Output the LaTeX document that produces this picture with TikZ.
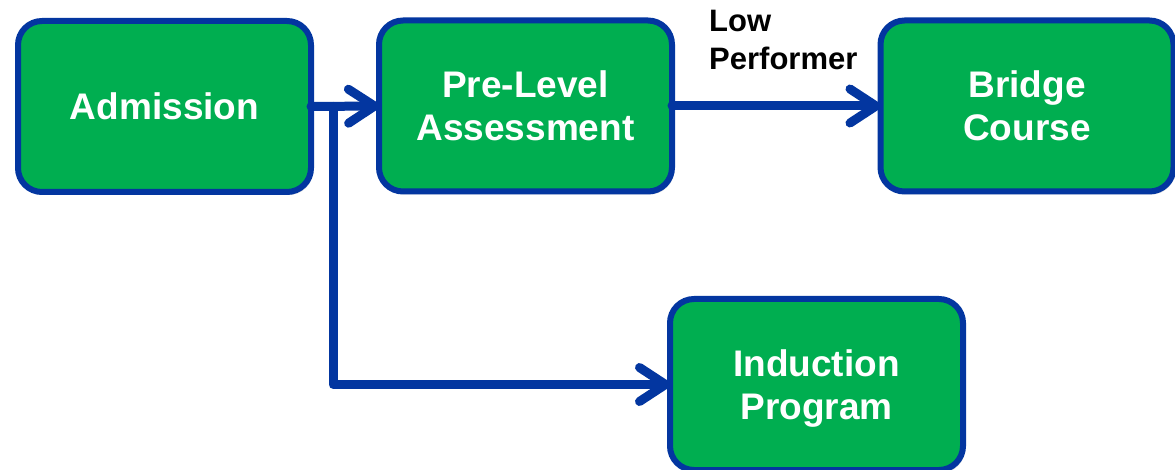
\documentclass[tikz,border=0pt]{standalone}
\usepackage{fontspec}
\setmainfont{Liberation Sans}
\usetikzlibrary{arrows.meta,shadows}
\definecolor{boxgreen}{HTML}{00AE50}
\definecolor{edgeblue}{HTML}{0336A0}
\tikzset{
  stagebox/.style={draw=edgeblue, fill=boxgreen, line width=6pt, rounded corners=24pt,
    minimum width=293pt, minimum height=171pt, outer sep=0pt, inner sep=0pt,
    text=white, align=center, font=\bfseries\fontsize{37}{43}\selectfont, text depth=0pt,
    drop shadow={opacity=0.25, shadow xshift=2pt, shadow yshift=-3pt}},
  linkarrow/.style={draw=edgeblue, line width=9pt, line cap=round, line join=round,
    -{Straight Barb[length=26pt,width=34pt,round]}},
}
\begin{document}
\begin{tikzpicture}[x=1pt,y=-1pt]
\useasboundingbox (0,0) rectangle (1175,470);
\node[stagebox] (adm) at (164.5,106.5) {Admission};
\node[stagebox] (pre) at (525.5,106) {Pre-Level\\Assessment};
\node[stagebox] (bri) at (1027,106) {Bridge\\Course};
\node[stagebox] (ind) at (816.5,384.5) {Induction\\Program};
\node[anchor=west, align=left, inner sep=0pt, font=\bfseries\fontsize{31}{38}\selectfont] (lbl) at (709,40) {Low\\Performer};
\draw[linkarrow] (adm.east) -- (pre.west);
\coordinate (j) at (333,106.5);
\draw[linkarrow] (j) |- (ind.west);
\draw[linkarrow] (pre.east) -- (bri.west);
\end{tikzpicture}
\end{document}
